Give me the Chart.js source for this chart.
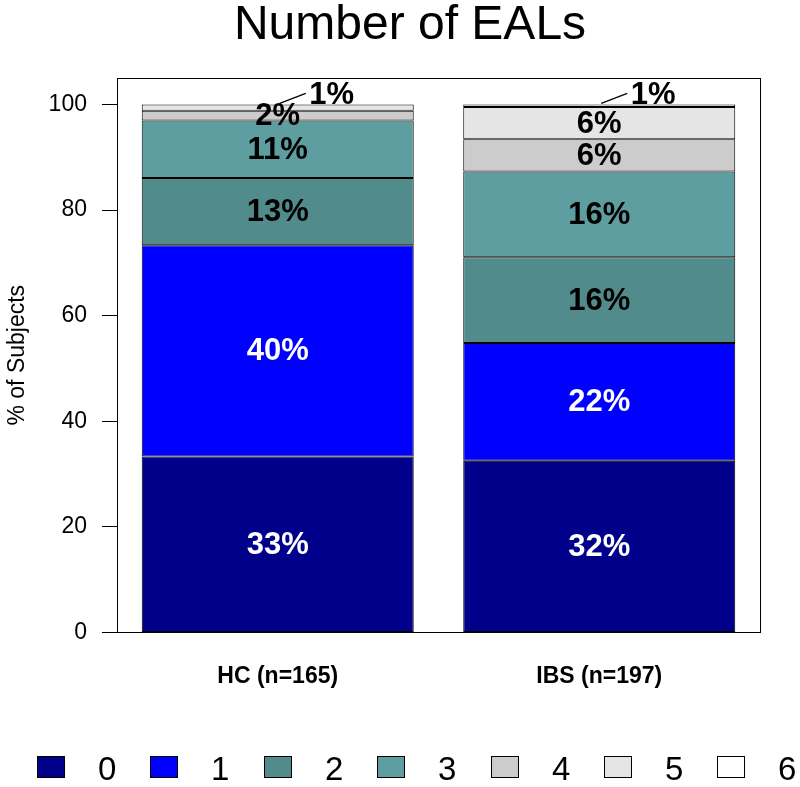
<!DOCTYPE html>
<html>
<head>
<meta charset="utf-8">
<script src="https://cdn.jsdelivr.net/npm/chart.js@4.4.1/dist/chart.umd.min.js"></script>
<style>
  html,body{margin:0;padding:0;background:#fff;}
  canvas{display:block;}
</style>
</head>
<body>
<canvas id="ealChart" width="800" height="787"></canvas>
<script>
'use strict';
const FONT = "'Liberation Sans', Arial, Helvetica, sans-serif";
Chart.defaults.font.family = FONT;
Chart.defaults.color = '#000';

// ── DATA ────────────────────────────────────────────────────────────────────
const groups = ['HC (n=165)', 'IBS (n=197)'];
const levels = ['0', '1', '2', '3', '4', '5', '6'];
const hcPct  = [33.33, 40.00, 12.73, 10.91, 1.82, 1.21, 0];
const ibsPct = [32.49, 22.34, 16.24, 16.24, 6.09, 6.09, 0.51];
const levelColors = ['#00008B', '#0000FF', '#528B8B', '#5F9EA0', '#CCCCCC', '#E5E5E5', '#FFFFFF'];
const yTicks = [0, 20, 40, 60, 80, 100];
const chartTitle = 'Number of EALs';
const yTitle = '% of Subjects';

// ── PLUGINS ─────────────────────────────────────────────────────────────────
const boxAndLabels = {
  id: 'boxAndLabels',
  afterDatasetsDraw(chart) {
    const {ctx, chartArea: a} = chart;
    ctx.save();
    // percentage labels
    chart.data.datasets.forEach((ds, di) => {
      const meta = chart.getDatasetMeta(di);
      meta.data.forEach((bar, j) => {
        const v = ds.data[j];
        if (!v) return;
        const txt = Math.round(v) + '%';
        ctx.font = 'bold 31px ' + FONT;
        ctx.textBaseline = 'middle';
        ctx.textAlign = 'center';
        ctx.fillStyle = di < 2 ? '#fff' : '#000';
        if (v < 1.5) {
          ctx.strokeStyle = '#000'; ctx.lineWidth = 1.2;
          ctx.beginPath();
          ctx.moveTo(bar.x + 2, bar.y - 1);
          ctx.lineTo(bar.x + 28, bar.y - 11);
          ctx.stroke();
          ctx.fillText(txt, bar.x + 54, bar.y - 9);
        } else {
          ctx.fillText(txt, bar.x, (bar.y + bar.base) / 2 + 1);
        }
      });
    });
    // plot box
    ctx.strokeStyle = '#000'; ctx.lineWidth = 1;
    ctx.strokeRect(Math.round(a.left) + 0.5, Math.round(a.top) + 0.5, Math.round(a.right - a.left), Math.round(a.bottom - a.top));
    ctx.restore();
  },
  afterDraw(chart) {
    const {ctx} = chart;
    ctx.save();
    // main title
    ctx.font = '48px ' + FONT;
    ctx.fillStyle = '#000';
    ctx.textAlign = 'center';
    ctx.textBaseline = 'alphabetic';
    ctx.fillText(chartTitle, 410, 39);
    // legend
    ctx.font = '33px ' + FONT;
    ctx.textAlign = 'left';
    levels.forEach((lv, i) => {
      const x = Math.round(37 + i * 113.4);
      ctx.fillStyle = levelColors[i];
      ctx.fillRect(x, 756, 28, 22);
      ctx.strokeStyle = '#000'; ctx.lineWidth = 1;
      ctx.strokeRect(x + 0.5, 756.5, 27, 21);
      ctx.fillStyle = '#000';
      ctx.fillText(lv, x + 61, 780);
    });
    ctx.restore();
  }
};

// ── CHART ───────────────────────────────────────────────────────────────────
new Chart(document.getElementById('ealChart'), {
  type: 'bar',
  data: {
    labels: groups,
    datasets: levels.map((lv, i) => ({
      label: lv,
      data: [hcPct[i], ibsPct[i]],
      backgroundColor: levelColors[i],
      borderColor: '#000',
      borderWidth: 1,
      borderSkipped: false,
      categoryPercentage: 1,
      barPercentage: 0.846
    }))
  },
  options: {
    responsive: false,
    animation: false,
    layout: {padding: {left: 4, right: 40, top: 78, bottom: 67}},
    plugins: {legend: {display: false}, title: {display: false}, tooltip: {enabled: false}},
    scales: {
      x: {
        stacked: true,
        grid: {display: false, drawTicks: false},
        border: {display: false},
        ticks: {color: '#000', font: {size: 23, weight: 'bold'}, padding: 30}
      },
      y: {
        stacked: true,
        min: 0, max: 105,
        afterBuildTicks: s => { s.ticks = yTicks.map(v => ({value: v})); },
        grid: {display: true, drawOnChartArea: false, drawTicks: true, tickLength: 15, color: '#000', lineWidth: 1},
        border: {display: false},
        ticks: {color: '#000', font: {size: 23}, padding: 15},
        title: {display: true, text: yTitle, color: '#000', font: {size: 23}, padding: {top: 0, bottom: 2}}
      }
    }
  },
  plugins: [boxAndLabels]
});
</script>
</body>
</html>
